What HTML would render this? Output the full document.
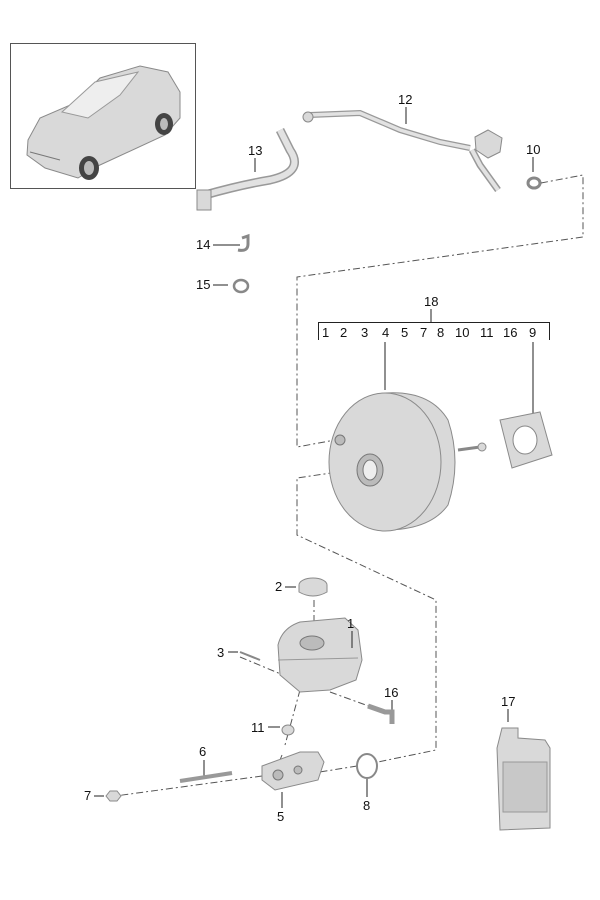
<!DOCTYPE html>
<html><head><meta charset="utf-8"><style>
html,body{margin:0;padding:0;background:#fff}
svg{display:block}
text{font-family:"Liberation Sans",sans-serif;font-size:13px;fill:#111}
.p{fill:#d9d9d9;stroke:#8a8a8a;stroke-width:1}
.d{fill:none;stroke:#555;stroke-width:1;stroke-dasharray:7,3,2,3}
.l{stroke:#222;stroke-width:1;fill:none}
</style></head><body>
<svg width="600" height="900" viewBox="0 0 600 900">
<!-- car box -->
<rect x="10.5" y="43.5" width="185" height="145" fill="#fff" stroke="#555"/>
<g>
<path class="p" d="M28 140 L40 118 L75 103 L100 78 L140 66 L168 72 L180 92 L180 118 L165 135 L100 165 L78 178 L45 168 L27 155 Z"/>
<path d="M62 112 L95 82 L138 72 L120 95 L88 118 Z" fill="#eee" stroke="#999"/>
<ellipse cx="89" cy="168" rx="10" ry="12" fill="#444"/><ellipse cx="89" cy="168" rx="5" ry="7" fill="#bbb"/>
<ellipse cx="164" cy="124" rx="9" ry="11" fill="#444"/><ellipse cx="164" cy="124" rx="4" ry="6" fill="#bbb"/>
<path d="M30 152 L60 160" stroke="#777"/>
</g>
<!-- 13 hose -->
<path d="M205 195 Q240 185 270 180 Q305 172 290 150 L280 130" stroke="#999" stroke-width="9" fill="none"/>
<path d="M205 195 Q240 185 270 180 Q305 172 290 150 L280 130" stroke="#e2e2e2" stroke-width="6" fill="none"/>
<rect x="197" y="190" width="14" height="20" class="p"/>
<text x="248" y="155">13</text><path class="l" d="M255 158 V172"/>
<!-- 12 pipe -->
<path d="M310 115 L360 113 L400 130 L440 142 L470 148" stroke="#999" stroke-width="6" fill="none"/>
<path d="M310 115 L360 113 L400 130 L440 142 L470 148" stroke="#e2e2e2" stroke-width="3.5" fill="none"/>
<path d="M472 150 L480 165 L498 190" stroke="#999" stroke-width="7" fill="none"/>
<path d="M472 150 L480 165 L498 190" stroke="#e2e2e2" stroke-width="4" fill="none"/>
<path class="p" d="M475 137 L488 130 L502 138 L500 152 L488 158 L476 150Z"/>
<circle cx="308" cy="117" r="5" class="p"/>
<text x="398" y="104">12</text><path class="l" d="M406 107 V124"/>
<!-- 10 -->
<text x="526" y="154">10</text><path class="l" d="M533 157 V172"/>
<ellipse cx="534" cy="183" rx="6" ry="5" fill="none" stroke="#888" stroke-width="3"/>
<!-- 14,15 -->
<text x="196" y="249">14</text><path class="l" d="M213 245 H240"/>
<path d="M242 238 L248 236 L248 244 Q248 252 238 250" fill="none" stroke="#888" stroke-width="3"/>
<text x="196" y="289">15</text><path class="l" d="M213 285 H228"/>
<ellipse cx="241" cy="286" rx="7" ry="6" fill="none" stroke="#888" stroke-width="2.5"/>
<!-- dashed -->
<path class="d" d="M541 183 L583 175 V237 L297 277 V447 L335 440"/>
<path class="d" d="M365 468 L297 478 V535 L436 600 V750 L378 762"/>
<path class="d" d="M357 766 L320 772 M262 776 L108 797"/>
<path class="d" d="M314 600 V645"/>
<path class="d" d="M240 657 L300 682 M330 692 L385 712"/>
<path class="d" d="M300 690 L285 745 M282 755 L278 765"/>
<!-- 18 bracket -->
<text x="424" y="306">18</text><path class="l" d="M431 309 V322 M318.5 340 V322.5 H549.5 V340"/>
<text x="322" y="337">1</text><text x="340" y="337">2</text><text x="361" y="337">3</text><text x="382" y="337">4</text>
<text x="401" y="337">5</text><text x="420" y="337">7</text><text x="437" y="337">8</text><text x="455" y="337">10</text>
<text x="480" y="337">11</text><text x="503" y="337">16</text><text x="529" y="337">9</text>
<path class="l" d="M385 342 V390 M533 342 V430"/>
<!-- booster -->
<path class="p" d="M385 393 Q430 390 448 420 Q462 462 448 505 Q430 530 385 530 Z"/>
<ellipse cx="385" cy="462" rx="56" ry="69" class="p"/>
<path d="M458 450 L480 447" stroke="#888" stroke-width="3"/><circle cx="482" cy="447" r="4" class="p"/>
<ellipse cx="370" cy="470" rx="13" ry="16" fill="#bbb" stroke="#777"/>
<ellipse cx="370" cy="470" rx="7" ry="10" fill="#eee" stroke="#777"/>
<circle cx="340" cy="440" r="5" fill="#bbb" stroke="#777"/>
<!-- gasket 9 -->
<path class="p" d="M500 420 L540 412 L552 455 L512 468 Z"/>
<ellipse cx="525" cy="440" rx="12" ry="14" fill="#fff" stroke="#888"/>
<!-- 2 cap -->
<text x="275" y="591">2</text><path class="l" d="M285 587 H296"/>
<ellipse cx="313" cy="585" rx="14" ry="7" class="p"/><path class="p" d="M299 585 V592 Q313 600 327 592 V585"/>
<!-- reservoir 1 -->
<path class="p" d="M278 645 Q282 628 300 622 L345 618 L358 630 L362 660 L356 680 L330 690 L300 692 L280 675 Z"/>
<ellipse cx="312" cy="643" rx="12" ry="7" fill="#bbb" stroke="#777"/>
<path d="M278 660 L358 658" stroke="#999"/>
<text x="347" y="628">1</text><path class="l" d="M352 631 V648"/>
<text x="217" y="657">3</text><path class="l" d="M228 652 H238"/>
<path d="M240 652 L260 660" stroke="#888" stroke-width="2"/>
<!-- 16 -->
<text x="384" y="697">16</text><path class="l" d="M392 700 V715"/>
<path d="M368 706 L385 712 L392 712 L392 724" stroke="#999" stroke-width="5" fill="none"/>
<!-- 11 -->
<text x="251" y="732">11</text><path class="l" d="M268 727 H280"/>
<ellipse cx="288" cy="730" rx="6" ry="5" class="p"/>
<!-- master cylinder 5 -->
<path class="p" d="M262 766 L300 752 L318 752 L324 762 L318 780 L275 790 L262 780 Z"/>
<circle cx="278" cy="775" r="5" fill="#bbb" stroke="#777"/><circle cx="298" cy="770" r="4" fill="#bbb" stroke="#777"/>
<path class="l" d="M282 792 V808"/><text x="277" y="821">5</text>
<!-- 6 rod -->
<text x="199" y="756">6</text><path class="l" d="M204 760 V777"/>
<path d="M180 781 L232 773" stroke="#999" stroke-width="4"/>
<!-- 7 nut -->
<text x="84" y="800">7</text><path class="l" d="M94 796 H104"/>
<polygon points="106,796 110,791 117,791 121,796 117,801 110,801" class="p"/>
<!-- 8 ring -->
<ellipse cx="367" cy="766" rx="10" ry="12" fill="none" stroke="#888" stroke-width="2"/>
<path class="l" d="M367 779 V797"/><text x="363" y="810">8</text>
<!-- 17 bottle -->
<text x="501" y="706">17</text><path class="l" d="M508 709 V722"/>
<path class="p" d="M502 728 H518 V738 L545 740 L550 748 V828 L500 830 L497 748 Z"/>
<rect x="503" y="762" width="44" height="50" fill="#c8c8c8" stroke="#999"/>
</svg>
</body></html>
